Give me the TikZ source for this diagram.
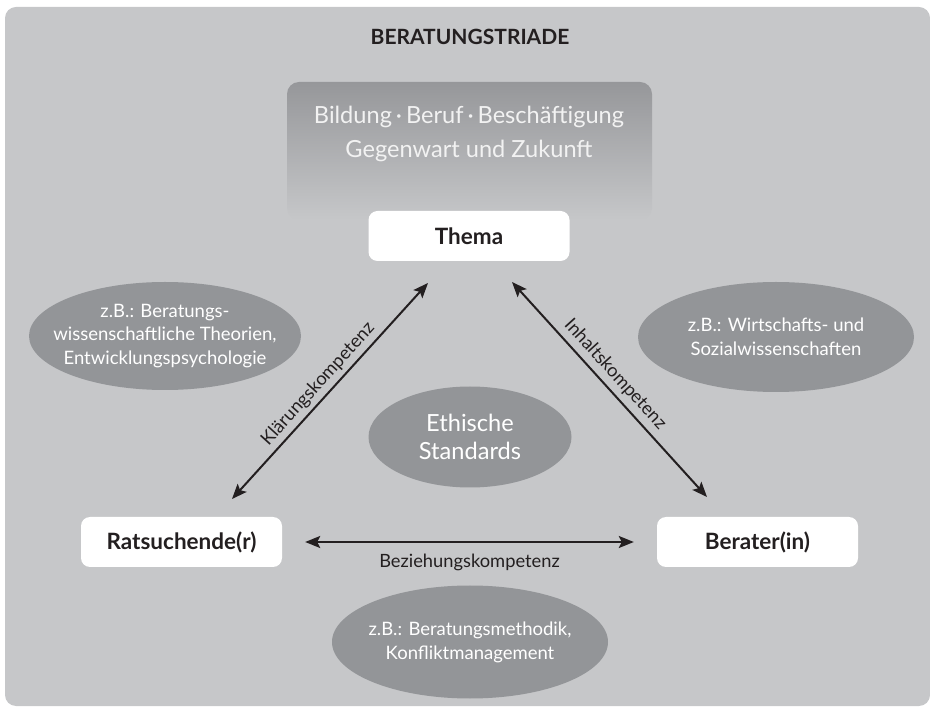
\documentclass[tikz,border=0pt]{standalone}
\usepackage{fontspec}
\setmainfont{Lato}
\usetikzlibrary{shapes.geometric,arrows.meta}
\definecolor{panel}{HTML}{C6C7C9}
\definecolor{ellgrey}{HTML}{939598}
\definecolor{topgrey}{HTML}{96979A}
\definecolor{softwhite}{HTML}{F2F2F2}
\definecolor{ink}{HTML}{231F20}
\tikzset{
  rolebox/.style={fill=white, rounded corners=9pt, minimum width=201pt, minimum height=50pt, inner sep=0pt, text=ink, font=\fontsize{22.5}{26}\selectfont\bfseries},
  ell/.style={ellipse, fill=ellgrey, inner sep=0pt},
  elltext/.style={text=white, align=center, font=\fontsize{18.5}{23.8}\selectfont},
  dblarr/.style={{Stealth[length=15pt,width=12pt,inset=3pt]}-{Stealth[length=15pt,width=12pt,inset=3pt]}, line width=2pt, draw=ink},
  komp/.style={text=ink, font=\fontsize{18.3}{21}\selectfont, inner sep=2pt}
}
\begin{document}
\begin{tikzpicture}[x=1pt,y=-1pt]
\useasboundingbox (0,0) rectangle (930,708);
\fill[panel, rounded corners=11pt] (5,7) rectangle (930,706);
% title
\node[text=ink, font=\fontsize{21}{25}\selectfont\bfseries] (title) at (470,37) {BERATUNGSTRIADE};
% top gradient box
\shade[top color=topgrey, bottom color=panel, rounded corners=12pt] (287,82) rectangle (652,220);
\node[text=softwhite, align=center, font=\fontsize{23.6}{34.5}\selectfont] (topic) at (469,134) {Bildung\,·\,Beruf\,·\,Beschäftigung\\Gegenwart und Zukunft};
% role boxes
\node[rolebox] (thema) at (469,236) {Thema};
\node[rolebox] (rat) at (181.5,542) {Ratsuchende(r)};
\node[rolebox] (berater) at (757.5,542) {Berater(in)};
% ellipses
\node[ell, minimum width=272pt, minimum height=108pt, label={[elltext]center:z.B.: Beratungs-\\wissenschaftliche Theorien,\\Entwicklungspsychologie}] (e1) at (165,336) {};
\node[ell, minimum width=276pt, minimum height=110pt, label={[elltext]center:z.B.: Wirtschafts- und\\Sozialwissenschaften}] (e2) at (776,337) {};
\node[ell, minimum width=203pt, minimum height=101pt, label={[elltext, font=\fontsize{23.6}{28}\selectfont]center:Ethische\\Standards}] (e3) at (470,437) {};
\node[ell, minimum width=276pt, minimum height=113pt, label={[elltext]center:z.B.: Beratungsmethodik,\\Konfliktmanagement}] (e4) at (470,642) {};
% arrow ends
\coordinate (kl1) at (232,499);
\coordinate (kl2) at (428,283);
\coordinate (in1) at (512,282);
\coordinate (in2) at (707,497);
\draw[dblarr] (kl1) -- node[komp, pos=0.49, sloped, above=2pt] {Klärungskompetenz} (kl2);
\draw[dblarr] (in1) -- node[komp, pos=0.475, sloped, above=3pt] {Inhaltskompetenz} (in2);
\draw[dblarr, shorten <=23pt, shorten >=23pt] (rat.east) -- node[komp, midway, below=9pt] {Beziehungskompetenz} (berater.west);
\end{tikzpicture}
\end{document}
